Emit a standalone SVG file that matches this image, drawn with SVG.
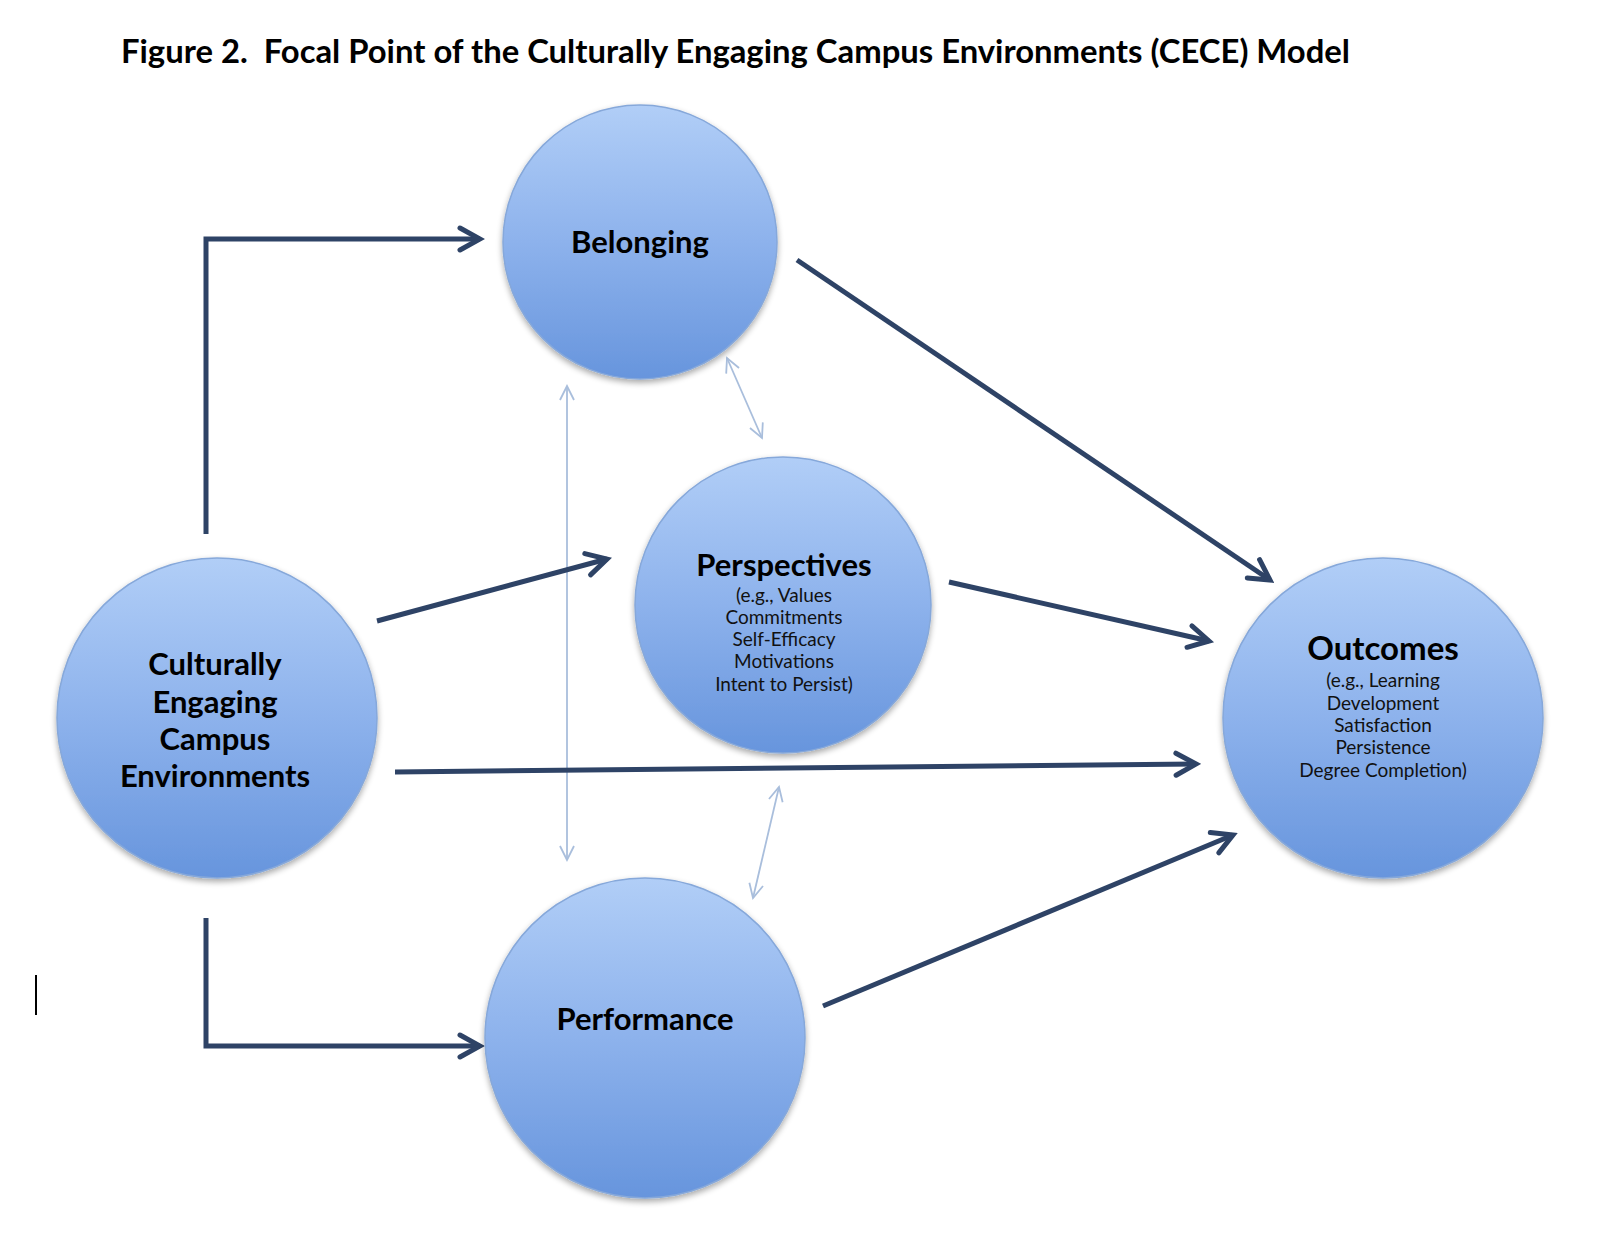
<svg xmlns="http://www.w3.org/2000/svg" width="1600" height="1253" viewBox="0 0 1600 1253">
<style>
.title{font-family:Lato,"Liberation Sans",sans-serif;font-weight:bold;font-size:32px;fill:#000}
.head{font-family:Lato,"Liberation Sans",sans-serif;font-weight:bold;font-size:31px;fill:#000;text-anchor:middle}
.sub{font-family:Lato,"Liberation Sans",sans-serif;font-size:19px;fill:#111;text-anchor:middle}
.node{fill:url(#g);stroke:#86A8DA;stroke-width:1.5;filter:url(#sh)}
.main{fill:none;stroke:#2E4366;stroke-width:5;stroke-linejoin:miter;marker-end:url(#ah)}
.light{fill:none;stroke:#A9BEDC;stroke-width:1.8;marker-start:url(#lh);marker-end:url(#lh)}
</style>
<defs>
<linearGradient id="g" x1="0" y1="0" x2="0" y2="1">
<stop offset="0" stop-color="#B1CEF7"/>
<stop offset="0.5" stop-color="#8DB2EC"/>
<stop offset="1" stop-color="#6795DD"/>
</linearGradient>
<filter id="sh" x="-10%" y="-10%" width="120%" height="125%">
<feGaussianBlur in="SourceAlpha" stdDeviation="3"/>
<feOffset dy="3" result="b"/>
<feComponentTransfer><feFuncA type="linear" slope="0.35"/></feComponentTransfer>
<feMerge><feMergeNode/><feMergeNode in="SourceGraphic"/></feMerge>
</filter>
<marker id="ah" viewBox="0 0 30 30" markerWidth="30" markerHeight="30" refX="25" refY="15" orient="auto" markerUnits="userSpaceOnUse">
<path d="M5,4 L25,15 L5,26" fill="none" stroke="#2E4366" stroke-width="5" stroke-linecap="round" stroke-linejoin="miter"/>
</marker>
<marker id="lh" viewBox="0 0 20 20" markerWidth="20" markerHeight="20" refX="18" refY="10" orient="auto-start-reverse" markerUnits="userSpaceOnUse">
<path d="M4,3 L18,10 L4,17" fill="none" stroke="#A9BEDC" stroke-width="1.8"/>
</marker>
</defs>
<rect width="1600" height="1253" fill="#fff"/>
<text class="title" x="121" y="63" textLength="1229" lengthAdjust="spacingAndGlyphs">Figure 2.&#160; Focal Point of the Culturally Engaging Campus Environments (CECE) Model</text>
<line x1="36" y1="975" x2="36" y2="1015" stroke="#000" stroke-width="2"/>
<g id="connectors">
<line class="light" x1="567" y1="386" x2="567" y2="860"/>
<line class="light" x1="727" y1="358" x2="762" y2="438"/>
<line class="light" x1="779" y1="787" x2="753" y2="898"/>
<path class="main" d="M206,534 L206,239 L480,239"/>
<path class="main" d="M377,621 L607,559"/>
<path class="main" d="M395,772 L1196,764"/>
<path class="main" d="M206,918 L206,1046 L480,1046"/>
<path class="main" d="M797,260 L1270,580"/>
<path class="main" d="M949,582 L1209,641"/>
<path class="main" d="M823,1006 L1233,835"/>
</g>
<g id="belonging">
<circle class="node" cx="640" cy="242" r="137"/>
<text class="head" x="640" y="253">Belonging</text>
</g>
<g id="perspectives">
<circle class="node" cx="783" cy="605" r="148"/>
<text class="head" x="784" y="576">Perspectives</text>
<text class="sub" x="784" y="602">(e.g., Values</text>
<text class="sub" x="784" y="624">Commitments</text>
<text class="sub" x="784" y="646">Self-Efficacy</text>
<text class="sub" x="784" y="668">Motivations</text>
<text class="sub" x="784" y="691">Intent to Persist)</text>
</g>
<g id="outcomes">
<circle class="node" cx="1383" cy="718" r="160"/>
<text class="head" x="1383" y="660" style="font-size:33px">Outcomes</text>
<text class="sub" x="1383" y="687">(e.g., Learning</text>
<text class="sub" x="1383" y="710">Development</text>
<text class="sub" x="1383" y="732">Satisfaction</text>
<text class="sub" x="1383" y="754">Persistence</text>
<text class="sub" x="1383" y="777">Degree Completion)</text>
</g>
<g id="cece">
<circle class="node" cx="217" cy="718" r="160"/>
<text class="head" x="215" y="675">Culturally</text>
<text class="head" x="215" y="713">Engaging</text>
<text class="head" x="215" y="750">Campus</text>
<text class="head" x="215" y="787">Environments</text>
</g>
<g id="performance">
<circle class="node" cx="645" cy="1038" r="160"/>
<text class="head" x="645" y="1030">Performance</text>
</g>
</svg>
